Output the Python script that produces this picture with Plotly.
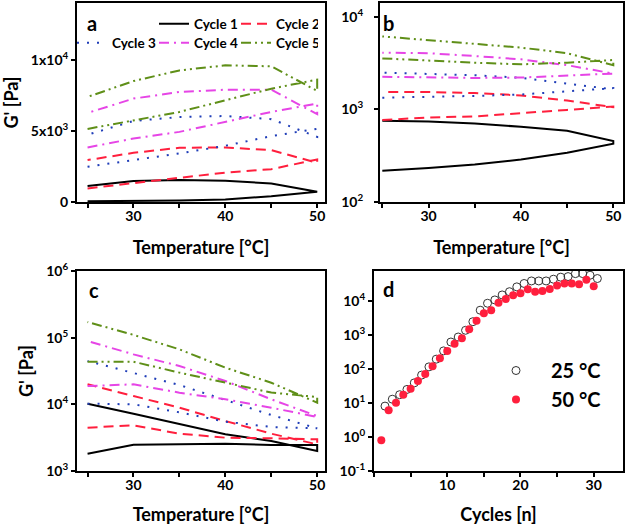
import plotly.graph_objects as go

# ---------------- data ----------------
temps = [25, 30, 35, 40, 45, 50]
temp_loop = [25, 30, 35, 40, 45, 50, 50, 45, 40, 35, 30, 25]  # heating then cooling

cycle_names = ["Cycle 1", "Cycle 2", "Cycle 3", "Cycle 4", "Cycle 5"]

# panel a (linear G')  heating 25->50 then cooling 50->25
a_cycle1 = [50, 70, 110, 180, 400, 730, 730, 1310, 1500, 1550, 1480, 1130]
a_cycle2 = [960, 1360, 1710, 2070, 2320, 3000, 2770, 3660, 3850, 3830, 3470, 2960]
a_cycle3 = [2490, 2960, 3430, 3970, 4650, 5170, 4600, 5850, 6070, 6000, 5720, 4750]
a_cycle4 = [3850, 4480, 4950, 5660, 6360, 6950, 6200, 7930, 7930, 7770, 7300, 6290]
a_cycle5 = [5160, 5770, 6360, 7180, 8000, 8640, 7840, 9580, 9650, 9290, 8540, 7420]

# panel b (log G')
b_cycle1 = [218, 233, 254, 288, 340, 426, 456, 587, 649, 706, 743, 755]
b_cycle2 = [767, 820, 841, 907, 988, 1075, 1057, 1249, 1417, 1503, 1541, 1541]
b_cycle3 = [1340, 1360, 1400, 1450, 1580, 1700, 1650, 1900, 2200, 2340, 2440, 2500]
b_cycle4 = [2250, 2210, 2190, 2210, 2340, 2440, 2440, 3010, 3480, 3780, 4050, 4110]
b_cycle5 = [3560, 3360, 3200, 3070, 3200, 3420, 3010, 4050, 4660, 5110, 5650, 6150]

# panel c (log G')
c_cycle1 = [1820, 2480, 2510, 2570, 2450, 2450, 2000, 2820, 3550, 5130, 7240, 10230]
c_cycle2 = [4470, 4840, 3630, 3160, 3090, 2985, 2510, 3630, 5620, 8910, 13330, 19950]
c_cycle3 = [10230, 10000, 7590, 5500, 4570, 4370, 4370, 6920, 11750, 19500, 29500, 44700]
c_cycle4 = [18800, 19950, 14960, 11890, 8910, 6460, 6680, 11890, 22400, 37600, 56200, 89100]
c_cycle5 = [43600, 43600, 29900, 21100, 15000, 12900, 10600, 21100, 35500, 66800, 110000, 171800]

# panel d
cycles_50 = [1, 2, 3, 4, 5, 6, 7, 8, 9, 10, 11, 12, 13, 14, 15,
             16, 17, 18, 19, 20, 21, 22, 23, 24, 25, 26, 27, 28, 29, 30]
g_50 = [0.8, 6.1, 10.2, 17.5, 26, 44, 71, 120, 206, 340, 550, 800, 1480, 2600, 4380,
        5340, 8900, 11400, 14700, 16900, 22000, 18700, 19600, 22500, 28300, 32600, 32600, 31000, 41600, 27000]
cycles_25 = [1.5, 2.5, 3.5, 4.5, 5.5, 6.5, 7.5, 8.5, 9.5, 10.5, 11.5, 12.5, 13.5, 14.5, 15.5,
             16.5, 17.5, 18.5, 19.5, 20.5, 21.5, 22.5, 23.5, 24.5, 25.5, 26.5, 27.5, 28.5, 29.5, 30.5]
g_25 = [8.1, 12.9, 17.5, 25, 39, 66, 115, 194, 340, 620, 870, 1370, 2450, 5340, 8550,
        10700, 15000, 18700, 25900, 32600, 38700, 38700, 38700, 43500, 50000, 52000, 63500, 63500, 57000, 45600]

temp_ticks = [25, 30, 35, 40, 45, 50]
temp_ticktext = ["", "30", "", "40", "", "50"]

# ---------------- styles ----------------
colors = ["#000000", "#ff1f3d", "#1f3db8", "#e645e6", "#5f8f18"]
dashes = ["solid", "10px,6px", "2px,8px", "10px,5px,2px,5px", "10px,4px,2px,4px,2px,4px"]
legends_a = ["legend", "legend", "legend2", "legend2", "legend2"]

FONT = "Lato"
W, H = 625, 527

def px_x(p):
    return p / W

def px_y(p):
    return 1 - p / H

fig = go.Figure()

panels = [
    ("x", "y", [a_cycle1, a_cycle2, a_cycle3, a_cycle4, a_cycle5], True),
    ("x2", "y2", [b_cycle1, b_cycle2, b_cycle3, b_cycle4, b_cycle5], False),
    ("x3", "y3", [c_cycle1, c_cycle2, c_cycle3, c_cycle4, c_cycle5], False),
]
for xa, ya, series, show in panels:
    for i, vals in enumerate(series):
        fig.add_trace(go.Scatter(
            x=temp_loop, y=vals, mode="lines", xaxis=xa, yaxis=ya,
            name=cycle_names[i], showlegend=show,
            legend=legends_a[i],
            line=dict(color=colors[i], width=2, dash=dashes[i]),
        ))

fig.add_trace(go.Scatter(
    x=cycles_25, y=g_25, mode="markers", xaxis="x4", yaxis="y4",
    name="25 °C", legend="legend3", legendgroup="g25",
    marker=dict(symbol="circle-open", size=8, color="#333333", line=dict(width=1, color="#333333")),
))
fig.add_trace(go.Scatter(
    x=cycles_50, y=g_50, mode="markers", xaxis="x4", yaxis="y4",
    name="50 °C", legend="legend3", legendgroup="g50",
    marker=dict(symbol="circle", size=8, color="#ff1f3d"),
))

axis_common = dict(
    showline=True, linewidth=2, linecolor="black", mirror=True,
    ticks="outside", ticklen=4, tickwidth=1.5, tickcolor="black",
    showgrid=False, zeroline=False, automargin=False,
    tickfont=dict(family=FONT, size=14, color="black", weight="bold"),
)
x_common = dict(axis_common, ticklabelstandoff=-4)
title_font = dict(family=FONT, size=18, color="black", weight="bold")

dom_x_left = [px_x(77), px_x(325)]
dom_x_right_b = [px_x(380), px_x(623)]
dom_x_right_d = [px_x(374), px_x(623)]
dom_y_top = [px_y(202), px_y(3)]
dom_y_bot = [px_y(471), px_y(271)]

fig.update_layout(
    xaxis=dict(domain=dom_x_left, anchor="y", range=[23.85, 50.85],
               tickvals=temp_ticks, ticktext=temp_ticktext,
               title=dict(text="Temperature [°C]", font=title_font, standoff=19), **x_common),
    yaxis=dict(domain=dom_y_top, anchor="x", range=[0, 14050],
               tickvals=[0, 5000, 10000], ticktext=["0", "5x10<sup>3</sup>", "1x10<sup>4</sup>"],
               title=dict(text="G' [Pa]", font=title_font, standoff=8), **axis_common),
    xaxis2=dict(domain=dom_x_right_b, anchor="y2", range=[24.75, 51.05],
                tickvals=temp_ticks, ticktext=temp_ticktext,
                title=dict(text="Temperature [°C]", font=title_font, standoff=19), **x_common),
    yaxis2=dict(domain=dom_y_top, anchor="x2", type="log", range=[2, 4.15],
                tickvals=[100, 1000, 10000], ticktext=["10<sup>2</sup>", "10<sup>3</sup>", "10<sup>4</sup>"],
                ticklabelstandoff=8, **axis_common),
    xaxis3=dict(domain=dom_x_left, anchor="y3", range=[23.85, 50.85],
                tickvals=temp_ticks, ticktext=temp_ticktext,
                title=dict(text="Temperature [°C]", font=title_font, standoff=17), **x_common),
    yaxis3=dict(domain=dom_y_bot, anchor="x3", type="log", range=[3, 6],
                tickvals=[1e3, 1e4, 1e5, 1e6],
                ticktext=["10<sup>3</sup>", "10<sup>4</sup>", "10<sup>5</sup>", "10<sup>6</sup>"],
                title=dict(text="G' [Pa]", font=title_font, standoff=8), **axis_common),
    xaxis4=dict(domain=dom_x_right_d, anchor="y4", range=[0, 34],
                tickvals=[0, 5, 10, 15, 20, 25, 30], ticktext=["", "", "10", "", "20", "", "30"],
                title=dict(text="Cycles [n]", font=title_font, standoff=17), **x_common),
    yaxis4=dict(domain=dom_y_bot, anchor="x4", type="log", range=[-1, 4.88],
                tickvals=[0.1, 1, 10, 100, 1e3, 1e4],
                ticktext=["10<sup>-1</sup>", "10<sup>0</sup>", "10<sup>1</sup>", "10<sup>2</sup>",
                          "10<sup>3</sup>", "10<sup>4</sup>"],
                **axis_common),
)

legend_font = dict(family=FONT, size=13.5, color="black", weight="bold")
fig.update_layout(
    width=W, height=H,
    margin=dict(l=0, r=0, t=0, b=0, autoexpand=False),
    paper_bgcolor="white", plot_bgcolor="white",
    font=dict(family=FONT, color="black"),
    legend=dict(orientation="h", x=px_x(318), xanchor="right", y=px_y(24), yanchor="middle",
                font=legend_font, bgcolor="rgba(0,0,0,0)", borderwidth=0,
                entrywidth=37, entrywidthmode="pixels", traceorder="normal"),
    legend2=dict(orientation="h", x=px_x(318), xanchor="right", y=px_y(43), yanchor="middle",
                 font=legend_font, bgcolor="rgba(0,0,0,0)", borderwidth=0,
                 entrywidth=37, entrywidthmode="pixels", traceorder="normal"),
    legend3=dict(orientation="v", x=px_x(481), xanchor="left", y=px_y(385), yanchor="middle",
                 font=dict(family=FONT, size=20, color="black", weight="bold"),
                 bgcolor="rgba(0,0,0,0)", borderwidth=0, itemwidth=60, tracegroupgap=12,
                 traceorder="normal"),
)

letter_font = dict(family=FONT, size=20, color="black", weight="bold")
for txt, x, y in [("a", 92, 23), ("b", 388, 23), ("c", 94, 290), ("d", 389, 289)]:
    fig.add_annotation(text=txt, x=px_x(x), y=px_y(y), xref="paper", yref="paper",
                       showarrow=False, font=letter_font, xanchor="center", yanchor="middle")

fig.write_html("out.html", config={"displayModeBar": False},
               post_script="document.body.style.margin='0';")
